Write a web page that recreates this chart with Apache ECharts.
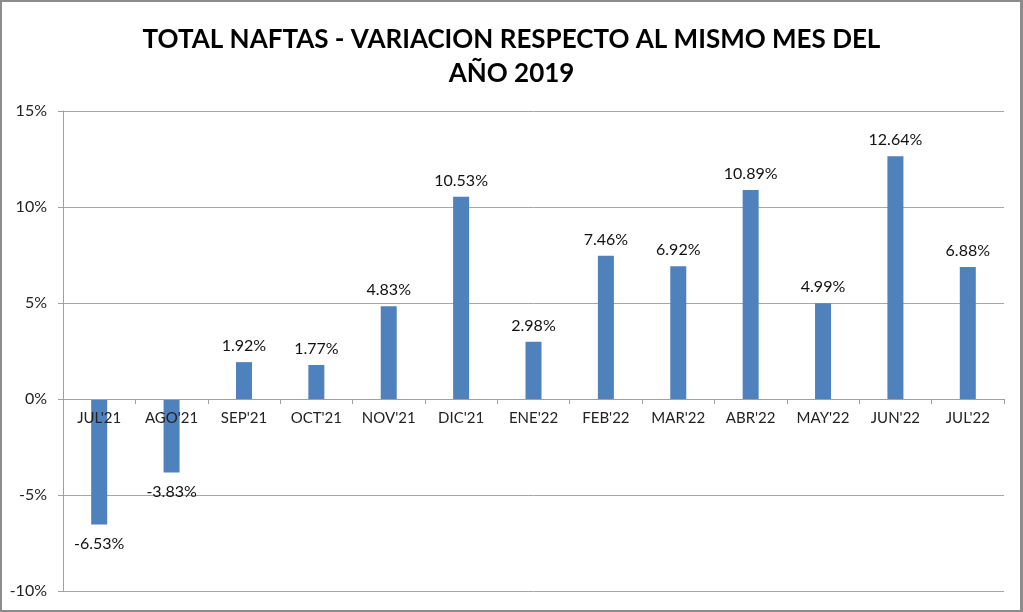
<!DOCTYPE html>
<html><head><meta charset="utf-8">
<script src="https://cdn.jsdelivr.net/npm/echarts@6/dist/echarts.min.js"></script>
<style>html,body{margin:0;padding:0;background:#fff}#w{width:1023px;height:612px;position:relative}#c{position:absolute;left:0;top:0;width:1023px;height:612px}#b{position:absolute;left:0;top:0;width:1023px;height:612px;box-sizing:border-box;border:2px solid #8c8c8c;border-right-width:3px;pointer-events:none}</style>
</head><body><div id="w"><div id="c"></div><div id="b"></div></div>
<script>
const categories = ["JUL'21","AGO'21","SEP'21","OCT'21","NOV'21","DIC'21","ENE'22","FEB'22","MAR'22","ABR'22","MAY'22","JUN'22","JUL'22"];
const values = [-6.53,-3.83,1.92,1.77,4.83,10.53,2.98,7.46,6.92,10.89,4.99,12.64,6.88];
const yTicks = {min:-10, max:15, interval:5};
const titleText = "TOTAL NAFTAS - VARIACION RESPECTO AL MISMO MES DEL\nAÑO 2019";

const gridTop = 111, gridBottom = 21;
const plotH = 612 - gridTop - gridBottom;
const zeroOffset = -plotH * (0 - yTicks.min) / (yTicks.max - yTicks.min);

const chart = echarts.init(document.getElementById('c'));
const fontFam = 'Lato, "Open Sans", sans-serif';
chart.setOption({
  animation:false,
  title:{text:titleText,left:'center',top:18,textStyle:{fontFamily:fontFam,fontWeight:'bold',fontSize:26,lineHeight:34,color:'#000'}},
  grid:{left:63,right:19,top:gridTop,bottom:gridBottom,outerBoundsMode:'none',containLabel:false},
  xAxis:{type:'category',data:categories,offset:zeroOffset,z:5,
    axisLine:{onZero:false,lineStyle:{color:'#a0a0a0',width:1}},
    axisTick:{show:true,length:5,lineStyle:{color:'#a0a0a0'}},
    axisLabel:{interval:0,hideOverlap:false,margin:12,fontFamily:fontFam,fontSize:15,color:'#222'},
    splitLine:{show:false}},
  yAxis:{type:'value',min:yTicks.min,max:yTicks.max,interval:yTicks.interval,
    axisLine:{show:true,lineStyle:{color:'#a0a0a0'}},
    axisTick:{show:true,length:5,lineStyle:{color:'#a0a0a0'}},
    axisLabel:{formatter:v=>v+'%',margin:16,fontFamily:fontFam,fontSize:16,color:'#222'},
    splitLine:{show:true,lineStyle:{color:'#a6a6a6',width:1}}},
  series:[{type:'bar',barWidth:16,z:2,
    itemStyle:{color:'#4F81BD'},
    data:values.map(v=>({value:v,label:{position:v<0?'bottom':'top',distance:v<0?11:8}})),
    label:{show:true,formatter:p=>p.value.toFixed(2)+'%',fontFamily:fontFam,fontSize:16,color:'#111'}}]
});
</script></body></html>
